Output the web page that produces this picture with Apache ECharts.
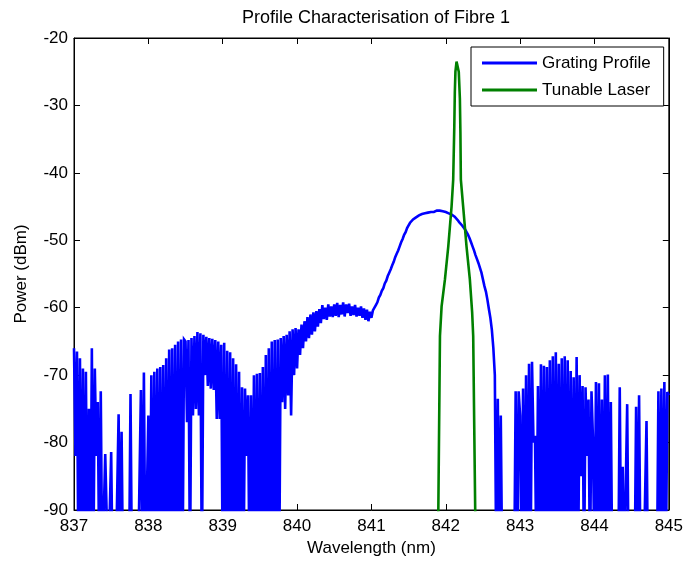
<!DOCTYPE html>
<html>
<head>
<meta charset="utf-8">
<script src="https://cdn.jsdelivr.net/npm/echarts@6/dist/echarts.min.js"></script>
<style>
html,body{margin:0;padding:0;background:#fff;}
#chart{width:686px;height:562px;}
</style>
</head>
<body>
<div id="chart"></div>
<script>
// ---- data ----
const titleText = 'Profile Characterisation of Fibre 1';
const xName = 'Wavelength (nm)';
const yName = 'Power (dBm)';
const xTicks = [837, 838, 839, 840, 841, 842, 843, 844, 845];
const yTicks = [-90, -80, -70, -60, -50, -40, -30, -20];
const seriesNames = ['Grating Profile', 'Tunable Laser'];

// Grating profile: OSA trace sampled every 0.02 nm from 837 nm (-100 = below noise floor)
const gratingStart = 837;
const gratingStep = 0.02;
const gratingPower = [
  -66,-82,-66.5,-100,-67.5,-100,-69,-100,-69.5,-100,-75,-100,-66,-100,-69,-82,-74,-100,-72.4,-100,-100,-81.7,-81.7,-100,-100,
  -81.4,-100,-100,-100,-100,-75.8,-100,-78.4,-100,-100,-100,-100,-100,-72.8,-100,-100,-100,-100,-100,-100,-72.2,-100,-69.6,-100,-100,
  -76,-100,-70,-100,-69.5,-100,-69,-100,-68.8,-100,-68.5,-100,-67.5,-100,-66.2,-100,-66,-100,-65.5,-100,-65,-100,-64.7,-100,-64.7,
  -65,-77,-64.8,-100,-64.5,-76,-64.2,-75,-63.6,-76,-63.8,-100,-64,-70,-64.3,-71.6,-64.5,-72,-64.6,-72.2,-64.8,-76.5,-65,-76.5,-65.5,
  -100,-65.2,-100,-66.4,-100,-66.6,-100,-67.5,-100,-68.4,-100,-69.5,-100,-71.8,-100,-72,-82,-73,-100,-73,-100,-70,-100,-69.8,-100,
  -69.7,-100,-68.8,-100,-67,-100,-66,-100,-65,-100,-64.8,-100,-64.7,-100,-64.5,-74,-64.2,-75,-64,-73,-63.5,-76,-63.2,-70,-63,
  -69,-63.2,-67,-62.5,-66,-62,-65,-61.4,-64.5,-61,-64,-60.7,-63.5,-60.5,-62.8,-60.2,-62.3,-59.6,-61.7,-60,-61.8,-59.5,-61.3,-59.8,-61.4,
  -59.5,-61.2,-59.3,-61.4,-59.6,-61,-59.2,-61.3,-59.5,-60.8,-59.4,-61.2,-59.8,-61.1,-59.6,-61.3,-60,-61.2,-59.8,-61.5,-60.1,-61.8,-60.3,-62,-60.6,
  -61.5,-60.4,-60.6,-59.6,-59.2,-58.5,-58.1,-57.5,-57.1,-56.4,-56,-55.3,-54.8,-54.3,-53.7,-53.2,-52.5,-52,-51.5,-50.9,-50.3,-49.8,-49.2,-48.8,-48.2,
  -47.8,-47.4,-47.2,-46.9,-46.8,-46.6,-46.4,-46.3,-46.2,-46.1,-46.1,-46,-45.9,-45.9,-45.8,-45.8,-45.7,-45.8,-45.7,-45.6,-45.7,-45.6,-45.7,-45.7,-45.8,
  -45.8,-45.9,-46,-46.1,-46.2,-46.3,-46.5,-46.7,-47,-47.3,-47.5,-47.8,-48.1,-48.4,-48.8,-49.2,-49.7,-50.3,-50.9,-51.5,-52.2,-52.8,-53.4,-54.1,-54.8,
  -55.8,-56.8,-57.6,-58.8,-60.2,-61.5,-63.3,-66,-70,-100,-73.5,-100,-76,-100,-100,-100,-100,-100,-100,-100,-100,-100,-72.4,-100,-72.4,
  -76,-100,-72,-100,-70,-100,-68.3,-100,-68,-80,-79,-100,-71.6,-100,-68.4,-100,-68.6,-100,-68.8,-100,-67.8,-100,-67.2,-100,-66.6,
  -100,-68.3,-100,-67.5,-100,-67.2,-100,-67.8,-100,-69.4,-100,-70.3,-100,-67.3,-100,-70,-85,-71.6,-100,-71.8,-82,-73.6,-100,-72.4,-79.5,
  -100,-71,-100,-71.2,-100,-73.6,-100,-70,-100,-69.9,-100,-74,-100,-100,-100,-100,-100,-71.8,-100,-83.6,-100,-100,-74.3,-100,-100,
  -100,-100,-100,-74.7,-100,-73,-100,-100,-100,-100,-76.8,-100,-100,-100,-100,-100,-100,-100,-72.4,-100,-72,-100,-71,-100,-72.5,
  -73
];

// Tunable laser
const laserWl = [841.88, 841.9, 841.922, 841.944, 841.989, 842.034, 842.078, 842.1, 842.115, 842.122, 842.13, 842.145, 842.16, 842.175, 842.19, 842.197, 842.203, 842.234, 842.279, 842.324, 842.355, 842.369, 842.396, 842.42];
const laserPower = [-100, -90, -64.2, -59.8, -55.8, -50.9, -45, -41, -33, -28, -25, -23.5, -23.5, -25, -29, -34, -41, -45, -50.9, -55.8, -60.7, -64.2, -90, -100];

// ---- chart ----
const gratingData = gratingPower.map((v, i) => [+(gratingStart + i * gratingStep).toFixed(2), v]);
const laserData = laserWl.map((w, i) => [w, laserPower[i]]);

const FONT = "'Liberation Sans', Arial, sans-serif";
const xMin = xTicks[0], xMax = xTicks[xTicks.length - 1];
const yMin = yTicks[0], yMax = yTicks[yTicks.length - 1];

const chart = echarts.init(document.getElementById('chart'), null, {renderer: 'canvas'});
const axisCommon = {
  axisLine: {show: true, onZero: false, lineStyle: {color: '#000', width: 1}},
  axisTick: {show: true, inside: true, length: 6, lineStyle: {color: '#000'}},
  splitLine: {show: false}
};
chart.setOption({
  animation: false,
  backgroundColor: '#fff',
  textStyle: {fontFamily: FONT},
  title: {
    text: titleText, left: 371, top: 4, textAlign: 'center',
    textStyle: {fontFamily: FONT, fontSize: 18, fontWeight: 'normal', color: '#000'}
  },
  grid: {left: 74, right: 14, top: 38, bottom: 51, show: true, borderColor: '#000', borderWidth: 1, backgroundColor: '#fff'},
  legend: {
    orient: 'vertical', left: 471, top: 47,
    padding: [7, 13, 7, 11],
    icon: 'rect',
    itemWidth: 55, itemHeight: 3, itemGap: 9,
    borderColor: '#000', borderWidth: 1, backgroundColor: '#fff',
    textStyle: {fontFamily: FONT, fontSize: 17, lineHeight: 18, color: '#000'},
    data: seriesNames
  },
  xAxis: [
    Object.assign({
      type: 'value', min: xMin, max: xMax, interval: 1, position: 'bottom',
      name: xName, nameLocation: 'middle', nameGap: 30,
      nameTextStyle: {fontFamily: FONT, fontSize: 17, color: '#000'},
      axisLabel: {show: true, margin: 8, fontFamily: FONT, fontSize: 17, color: '#000', showMinLabel: true, showMaxLabel: true}
    }, axisCommon),
    Object.assign({
      type: 'value', min: xMin, max: xMax, interval: 1, position: 'top',
      axisLabel: {show: false}
    }, axisCommon)
  ],
  yAxis: [
    Object.assign({
      type: 'value', min: yMin, max: yMax, interval: 10, position: 'left',
      name: yName, nameLocation: 'middle', nameGap: 44, nameRotate: 90,
      nameTextStyle: {fontFamily: FONT, fontSize: 17, color: '#000'},
      axisLabel: {show: true, margin: 6, fontFamily: FONT, fontSize: 17, color: '#000', showMinLabel: true, showMaxLabel: true}
    }, axisCommon),
    Object.assign({
      type: 'value', min: yMin, max: yMax, interval: 10, position: 'right',
      axisLabel: {show: false}
    }, axisCommon)
  ],
  series: [
    {
      name: seriesNames[0], type: 'line', xAxisIndex: 0, yAxisIndex: 0,
      data: gratingData, symbol: 'none', showSymbol: false, sampling: null, clip: true,
      lineStyle: {color: '#0000ff', width: 2.6, join: 'miter', miterLimit: 4}, itemStyle: {color: '#0000ff'}
    },
    {
      name: seriesNames[1], type: 'line', xAxisIndex: 0, yAxisIndex: 0,
      data: laserData, symbol: 'none', showSymbol: false, clip: true,
      lineStyle: {color: '#008000', width: 2.6}, itemStyle: {color: '#008000'}
    }
  ]
});
</script>
</body>
</html>
